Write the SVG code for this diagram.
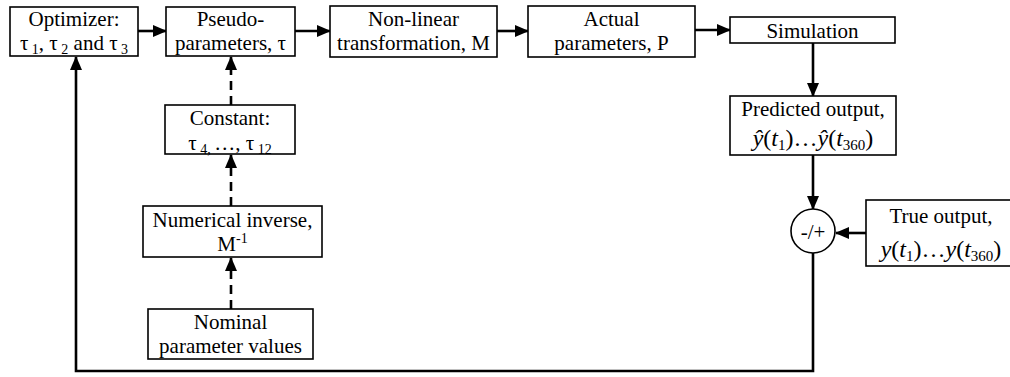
<svg xmlns="http://www.w3.org/2000/svg" width="1010" height="377" viewBox="0 0 1010 377">
<defs>
<marker id="ah" markerUnits="userSpaceOnUse" markerWidth="14" markerHeight="12" refX="13" refY="6" orient="auto">
<path d="M0,0 L14,6 L0,12 z" fill="#000"/>
</marker>
</defs>
<g id="connectors" fill="none" stroke="#000" stroke-width="2.6">
<line x1="138" y1="31" x2="166" y2="31" marker-end="url(#ah)"/>
<line x1="295" y1="31" x2="330" y2="31" marker-end="url(#ah)"/>
<line x1="497" y1="31" x2="528" y2="31" marker-end="url(#ah)"/>
<line x1="695" y1="30" x2="730" y2="30" marker-end="url(#ah)"/>
<line x1="813" y1="43" x2="813" y2="96" marker-end="url(#ah)"/>
<line x1="813" y1="155" x2="813" y2="209" marker-end="url(#ah)"/>
<line x1="866" y1="233" x2="836" y2="233" marker-end="url(#ah)"/>
<path d="M813,253 V371 H76 V57" marker-end="url(#ah)"/>
<g stroke-dasharray="9 6">
<line x1="231" y1="309" x2="231" y2="258" marker-end="url(#ah)"/>
<line x1="231" y1="206" x2="231" y2="155" marker-end="url(#ah)"/>
<line x1="231" y1="105" x2="231" y2="57" marker-end="url(#ah)"/>
</g>
</g>
<g id="nodes" style="font-family:'Liberation Serif',serif" font-size="21" text-anchor="middle" fill="#000">
<g id="optimizer">
<rect x="10" y="7" width="128" height="49" fill="#fff" stroke="#000" stroke-width="1.6"/>
<text x="74" y="26" style="font-family:'Liberation Serif',serif">Optimizer:</text>
<text x="74" y="50" style="font-family:'Liberation Serif',serif">τ<tspan font-size="14" dy="4"> 1</tspan><tspan dy="-4">, τ</tspan><tspan font-size="14" dy="4"> 2</tspan><tspan dy="-4"> and τ</tspan><tspan font-size="14" dy="4"> 3</tspan></text>
</g>
<g id="pseudo">
<rect x="166" y="7" width="129" height="49" fill="#fff" stroke="#000" stroke-width="1.6"/>
<text x="230.5" y="26" style="font-family:'Liberation Serif',serif">Pseudo-</text>
<text x="230.5" y="50" style="font-family:'Liberation Serif',serif">parameters, τ</text>
</g>
<g id="nonlinear">
<rect x="330" y="6" width="167" height="51" fill="#fff" stroke="#000" stroke-width="1.6"/>
<text x="413.5" y="26" style="font-family:'Liberation Serif',serif">Non-linear</text>
<text x="413.5" y="50" style="font-family:'Liberation Serif',serif">transformation, M</text>
</g>
<g id="actual">
<rect x="528" y="6" width="167" height="51" fill="#fff" stroke="#000" stroke-width="1.6"/>
<text x="611.5" y="26" style="font-family:'Liberation Serif',serif">Actual</text>
<text x="611.5" y="50" style="font-family:'Liberation Serif',serif">parameters, P</text>
</g>
<g id="simulation">
<rect x="730" y="17" width="165" height="26" fill="#fff" stroke="#000" stroke-width="1.6"/>
<text x="812.5" y="38" style="font-family:'Liberation Serif',serif">Simulation</text>
</g>
<g id="predicted">
<rect x="730" y="96" width="166" height="59" fill="#fff" stroke="#000" stroke-width="1.6"/>
<text x="813" y="116" style="font-family:'Liberation Serif',serif">Predicted output,</text>
<text x="813" y="146" font-size="24" style="font-family:'Liberation Serif',serif"><tspan font-style="italic">ŷ</tspan>(<tspan font-style="italic">t</tspan><tspan font-size="15" dy="4">1</tspan><tspan dy="-4">)…</tspan><tspan font-style="italic">ŷ</tspan>(<tspan font-style="italic">t</tspan><tspan font-size="15" dy="4">360</tspan><tspan dy="-4">)</tspan></text>
</g>
<g id="sum">
<circle cx="813" cy="231" r="22" fill="#fff" stroke="#000" stroke-width="1.6"/>
<text x="813" y="239" style="font-family:'Liberation Serif',serif">-/+</text>
</g>
<g id="true">
<rect x="866" y="200" width="150" height="66" fill="#fff" stroke="#000" stroke-width="1.6"/>
<text x="941" y="223" style="font-family:'Liberation Serif',serif">True output,</text>
<text x="941" y="257" font-size="24" style="font-family:'Liberation Serif',serif"><tspan font-style="italic">y</tspan>(<tspan font-style="italic">t</tspan><tspan font-size="15" dy="4">1</tspan><tspan dy="-4">)…</tspan><tspan font-style="italic">y</tspan>(<tspan font-style="italic">t</tspan><tspan font-size="15" dy="4">360</tspan><tspan dy="-4">)</tspan></text>
</g>
<g id="constant">
<rect x="165" y="105" width="130" height="49" fill="#fff" stroke="#000" stroke-width="1.6"/>
<text x="230" y="125" style="font-family:'Liberation Serif',serif">Constant:</text>
<text x="230" y="150" style="font-family:'Liberation Serif',serif">τ<tspan font-size="14" dy="4"> 4, </tspan><tspan dy="-4">…, τ</tspan><tspan font-size="14" dy="4"> 12</tspan></text>
</g>
<g id="inverse">
<rect x="143" y="206" width="179" height="51" fill="#fff" stroke="#000" stroke-width="1.6"/>
<text x="232.5" y="227" style="font-family:'Liberation Serif',serif">Numerical inverse,</text>
<text x="232.5" y="251" style="font-family:'Liberation Serif',serif">M<tspan font-size="14" dy="-8">-1</tspan></text>
</g>
<g id="nominal">
<rect x="148" y="309" width="165" height="50" fill="#fff" stroke="#000" stroke-width="1.6"/>
<text x="230.5" y="329" style="font-family:'Liberation Serif',serif">Nominal</text>
<text x="230.5" y="353" style="font-family:'Liberation Serif',serif">parameter values</text>
</g>
</g>
</svg>
